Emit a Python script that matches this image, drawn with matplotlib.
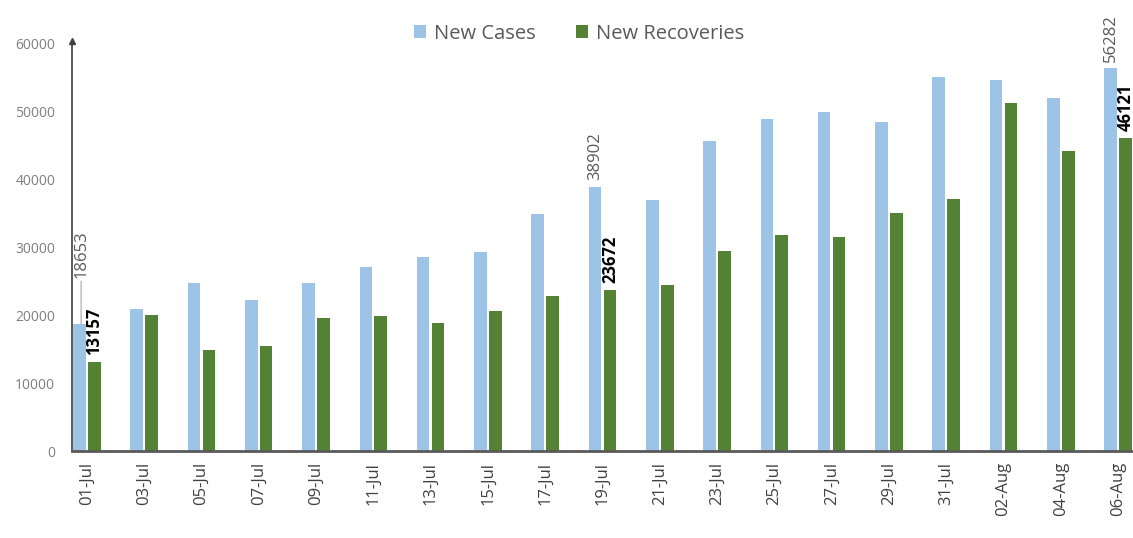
import matplotlib.pyplot as plt
import numpy as np

dates = ['01-Jul', '03-Jul', '05-Jul', '07-Jul', '09-Jul', '11-Jul', '13-Jul',
         '15-Jul', '17-Jul', '19-Jul', '21-Jul', '23-Jul', '25-Jul', '27-Jul',
         '29-Jul', '31-Jul', '02-Aug', '04-Aug', '06-Aug']
new_cases = [18653, 20900, 24700, 22200, 24700, 27000, 28500, 29300, 34900,
             38902, 37000, 45600, 48800, 49900, 48400, 55000, 54600, 52000, 56282]
new_recoveries = [13157, 20000, 14900, 15400, 19600, 19900, 18800, 20600, 22800,
                  23672, 24400, 29400, 31800, 31500, 35000, 37100, 51200, 44100, 46121]
labelled = [0, 9, 18]

blue = '#9DC3E6'
green = '#548235'
grey = '#595959'

plt.rcParams['font.family'] = ['Open Sans', 'DejaVu Sans']

fig = plt.figure(figsize=(11.33, 5.38), dpi=100)
ax = fig.add_axes([0.0635, 0.1617, 0.9365, 0.758])

x = np.arange(len(dates))
w = 0.22
off = 0.13
ax.bar(x - off, new_cases, w, color=blue, label='New Cases')
ax.bar(x + off, new_recoveries, w, color=green, label='New Recoveries')

ax.set_xlim(-0.26, len(dates) - 1 + 0.26)
ax.set_ylim(0, 60000)
ax.set_yticks(range(0, 60001, 10000))
ax.set_xticks(x)
ax.set_xticklabels(dates, rotation=90, fontsize=12, color='#404040')
ax.tick_params(axis='y', labelsize=10, colors='#7f7f7f', length=0, pad=12)
ax.tick_params(axis='x', length=0, pad=8)

for s in ['top', 'right']:
    ax.spines[s].set_visible(False)
ax.spines['left'].set_color('#404040')
ax.spines['left'].set_linewidth(1.2)
ax.spines['bottom'].set_color('#595959')
ax.spines['bottom'].set_linewidth(2)
ax.plot(0, 1.005, marker='^', markersize=4, color='#404040',
        transform=ax.transAxes, clip_on=False)

for i in labelled:
    if i == 0:
        ax.annotate(str(new_cases[i]), xy=(x[i] - off + 0.03, new_cases[i]),
                    xytext=(0, 33), textcoords='offset points', rotation=90,
                    ha='center', va='bottom', fontsize=12, color=grey,
                    arrowprops=dict(arrowstyle='-', color='#a6a6a6', lw=0.8,
                                    shrinkA=0, shrinkB=0),
                    annotation_clip=False)
    else:
        ax.annotate(str(new_cases[i]), xy=(x[i] - off, new_cases[i]),
                    xytext=(0, 5), textcoords='offset points', rotation=90,
                    ha='center', va='bottom', fontsize=12, color=grey,
                    annotation_clip=False)
    ax.annotate(str(new_recoveries[i]), xy=(x[i] + off, new_recoveries[i]),
                xytext=(0, 5), textcoords='offset points', rotation=90,
                ha='center', va='bottom', fontsize=12, color='black',
                fontweight='bold', annotation_clip=False)

fig.legend(loc='center', bbox_to_anchor=(0.511, 0.937), ncol=2, frameon=False,
           fontsize=14.5, labelcolor=grey, handlelength=0.6, handleheight=0.6,
           handletextpad=0.4, columnspacing=2.0)

fig.savefig('out.png', dpi=100)
